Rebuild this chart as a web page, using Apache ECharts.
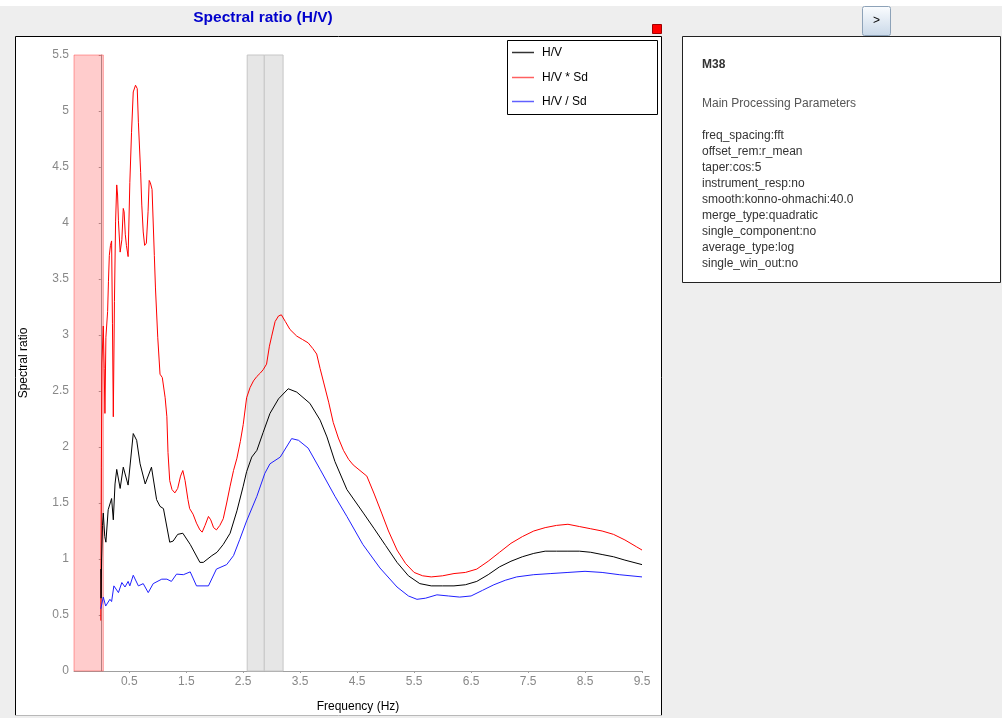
<!DOCTYPE html>
<html>
<head>
<meta charset="utf-8">
<title>Spectral ratio (H/V)</title>
<script src="https://cdn.jsdelivr.net/npm/echarts@6/dist/echarts.min.js"></script>
<style>
  html, body { margin: 0; padding: 0; background: #eeeeee; }
  #chart { width: 1002px; height: 718px; }
</style>
</head>
<body>
<div id="chart"></div>
<script>
// H/V curve
const hvFreq = [0.00, 0.005, 0.015, 0.03, 0.044, 0.07, 0.09, 0.13, 0.19, 0.22, 0.25, 0.28, 0.34, 0.395, 0.48, 0.57, 0.63, 0.69, 0.78, 0.89, 0.98, 1.04, 1.10, 1.21, 1.27, 1.35, 1.44, 1.57, 1.74, 1.80, 1.95, 2.04, 2.15, 2.27, 2.39, 2.50, 2.56, 2.65, 2.74, 2.85, 2.97, 3.12, 3.29, 3.44, 3.67, 3.85, 3.97, 4.11, 4.32, 4.61, 4.80, 5.00, 5.20, 5.40, 5.60, 5.80, 6.00, 6.20, 6.40, 6.60, 6.80, 7.00, 7.20, 7.40, 7.60, 7.80, 8.00, 8.20, 8.40, 8.60, 8.80, 9.00, 9.20, 9.50];
const hvValue = [0.91, 0.65, 1.00, 1.30, 1.41, 1.20, 1.15, 1.44, 1.54, 1.35, 1.67, 1.80, 1.63, 1.82, 1.66, 2.12, 2.06, 1.85, 1.67, 1.82, 1.53, 1.47, 1.45, 1.15, 1.16, 1.22, 1.23, 1.13, 0.97, 0.97, 1.03, 1.06, 1.13, 1.23, 1.43, 1.65, 1.78, 1.91, 1.97, 2.13, 2.30, 2.43, 2.52, 2.49, 2.39, 2.24, 2.09, 1.87, 1.62, 1.41, 1.27, 1.12, 0.97, 0.85, 0.78, 0.76, 0.76, 0.76, 0.77, 0.80, 0.86, 0.93, 0.98, 1.02, 1.05, 1.07, 1.07, 1.07, 1.07, 1.06, 1.04, 1.02, 0.99, 0.95];

// H/V * Sd curve
const hvMulFreq = [0.00, 0.01, 0.02, 0.044, 0.06, 0.073, 0.09, 0.12, 0.135, 0.15, 0.17, 0.19, 0.205, 0.22, 0.24, 0.26, 0.28, 0.295, 0.31, 0.34, 0.37, 0.395, 0.41, 0.43, 0.45, 0.48, 0.51, 0.54, 0.57, 0.61, 0.64, 0.66, 0.70, 0.72, 0.745, 0.77, 0.80, 0.83, 0.85, 0.87, 0.90, 0.94, 0.96, 1.00, 1.04, 1.08, 1.13, 1.16, 1.18, 1.21, 1.25, 1.30, 1.35, 1.40, 1.44, 1.48, 1.53, 1.56, 1.62, 1.68, 1.74, 1.78, 1.83, 1.89, 1.93, 1.98, 2.03, 2.09, 2.15, 2.21, 2.27, 2.33, 2.39, 2.45, 2.50, 2.56, 2.62, 2.68, 2.74, 2.80, 2.85, 2.91, 2.96, 3.00, 3.06, 3.12, 3.17, 3.24, 3.32, 3.44, 3.54, 3.64, 3.72, 3.79, 3.85, 3.91, 4.00, 4.08, 4.17, 4.26, 4.35, 4.43, 4.55, 4.67, 4.80, 4.93, 5.05, 5.20, 5.35, 5.50, 5.65, 5.80, 6.00, 6.20, 6.40, 6.60, 6.80, 7.00, 7.20, 7.40, 7.60, 7.80, 8.00, 8.20, 8.40, 8.60, 8.80, 9.00, 9.20, 9.40, 9.50];
const hvMulValue = [0.45, 1.82, 2.75, 3.08, 2.70, 2.30, 2.98, 3.21, 3.48, 3.71, 3.80, 3.84, 3.10, 2.27, 3.30, 4.01, 4.34, 4.25, 4.02, 3.74, 3.85, 4.13, 4.10, 3.90, 3.80, 3.70, 4.36, 4.81, 5.17, 5.23, 5.20, 4.90, 4.45, 4.16, 3.92, 3.80, 3.82, 4.10, 4.38, 4.36, 4.30, 3.71, 3.42, 2.98, 2.65, 2.62, 2.44, 2.27, 1.95, 1.70, 1.62, 1.59, 1.63, 1.74, 1.79, 1.70, 1.53, 1.45, 1.40, 1.32, 1.26, 1.24, 1.30, 1.38, 1.35, 1.28, 1.26, 1.30, 1.36, 1.50, 1.65, 1.79, 1.90, 2.05, 2.20, 2.44, 2.53, 2.59, 2.63, 2.66, 2.69, 2.74, 2.90, 2.99, 3.12, 3.17, 3.18, 3.12, 3.05, 2.99, 2.96, 2.93, 2.88, 2.83, 2.70, 2.58, 2.40, 2.22, 2.08, 1.97, 1.89, 1.84, 1.79, 1.74, 1.58, 1.41, 1.25, 1.08, 0.96, 0.88, 0.85, 0.84, 0.85, 0.87, 0.88, 0.91, 0.98, 1.06, 1.14, 1.20, 1.25, 1.28, 1.30, 1.31, 1.29, 1.27, 1.25, 1.22, 1.17, 1.11, 1.08];

// H/V / Sd curve
const hvDivFreq = [0.00, 0.044, 0.086, 0.16, 0.19, 0.23, 0.31, 0.37, 0.425, 0.48, 0.51, 0.57, 0.66, 0.745, 0.833, 0.92, 1.07, 1.16, 1.24, 1.33, 1.45, 1.57, 1.68, 1.89, 2.03, 2.21, 2.33, 2.44, 2.56, 2.74, 2.88, 2.97, 3.15, 3.35, 3.47, 3.64, 3.85, 4.11, 4.32, 4.60, 4.90, 5.20, 5.40, 5.55, 5.70, 5.90, 6.10, 6.30, 6.50, 6.70, 6.90, 7.10, 7.30, 7.60, 7.90, 8.20, 8.50, 8.80, 9.10, 9.50];
const hvDivValue = [0.555, 0.66, 0.58, 0.64, 0.62, 0.76, 0.70, 0.79, 0.75, 0.80, 0.76, 0.855, 0.76, 0.78, 0.70, 0.78, 0.82, 0.82, 0.80, 0.865, 0.86, 0.885, 0.76, 0.76, 0.91, 0.95, 1.03, 1.175, 1.34, 1.56, 1.765, 1.85, 1.91, 2.075, 2.06, 1.99, 1.80, 1.56, 1.38, 1.13, 0.92, 0.75, 0.67, 0.64, 0.65, 0.68, 0.67, 0.66, 0.67, 0.72, 0.77, 0.81, 0.84, 0.86, 0.87, 0.88, 0.89, 0.88, 0.86, 0.84];

// Excluded low-frequency band and peak frequency +/- std band (Hz)
const lowCutBand = [-0.47, 0.045];
const peakBand = [2.57, 2.87, 3.20];

// Axis settings
const freqRange = [-0.47, 9.5];
const freqTicks = [0.5, 1.5, 2.5, 3.5, 4.5, 5.5, 6.5, 7.5, 8.5, 9.5];
const ratioRange = [0, 5.5];

const seriesNames = ['H/V', 'H/V * Sd', 'H/V / Sd'];
const seriesColors = ['#000000', '#ff0000', '#2020ff'];
const legendColors = ['#333333', '#ff6060', '#6060ff'];

const paramTitle = 'M38';
const paramHeader = 'Main Processing Parameters';
const paramLines = [
  'freq_spacing:fft',
  'offset_rem:r_mean',
  'taper:cos:5',
  'instrument_resp:no',
  'smooth:konno-ohmachi:40.0',
  'merge_type:quadratic',
  'single_component:no',
  'average_type:log',
  'single_win_out:no'
];

const FONT = '"Liberation Sans", Arial, sans-serif';

function pairs(xs, ys) {
  return xs.map((x, i) => [x, ys[i]]);
}

const chart = echarts.init(document.getElementById('chart'), null, { renderer: 'canvas' });

const graphics = [];
// top strip and panels
graphics.push({ type: 'rect', z: -20, shape: { x: 0, y: 0, width: 1002, height: 6 }, style: { fill: '#ffffff' } });
graphics.push({ type: 'rect', z: -10, shape: { x: 15.5, y: 36.5, width: 646, height: 690 }, style: { fill: '#ffffff', stroke: '#000000', lineWidth: 1 } });
graphics.push({ type: 'rect', z: -10, shape: { x: 682.5, y: 36.5, width: 318, height: 246 }, style: { fill: '#ffffff', stroke: '#222222', lineWidth: 1 } });
// bottom edge of the page
graphics.push({ type: 'rect', z: 20, shape: { x: 0, y: 716, width: 1002, height: 2 }, style: { fill: '#eeeeee' } });
graphics.push({ type: 'line', z: 20, shape: { x1: 15, y1: 715.5, x2: 662, y2: 715.5 }, style: { stroke: '#b8b8b8', lineWidth: 1 } });

// title
graphics.push({ type: 'text', z: 10, style: { text: 'Spectral ratio (H/V)', x: 263, y: 18, textAlign: 'center', textVerticalAlign: 'middle', font: 'bold 15.5px ' + FONT, fill: '#0000cc' } });
// status square
graphics.push({ type: 'rect', z: 10, shape: { x: 652.5, y: 24.5, width: 9, height: 9 }, style: { fill: '#ff0000', stroke: '#a00000', lineWidth: 1 } });
// toggle button
graphics.push({
  type: 'rect', z: 10, shape: { x: 862.5, y: 6.5, width: 28, height: 29, r: 2 },
  style: {
    fill: new echarts.graphic.LinearGradient(0, 0, 0, 1, [
      { offset: 0, color: '#fbfdff' }, { offset: 1, color: '#c9d8e8' }
    ]),
    stroke: '#8da2b8', lineWidth: 1
  }
});
graphics.push({ type: 'text', z: 11, style: { text: '>', x: 876.5, y: 20.5, textAlign: 'center', textVerticalAlign: 'middle', font: '12px ' + FONT, fill: '#000000' } });

// legend box
graphics.push({ type: 'rect', z: 10, shape: { x: 507.5, y: 40.5, width: 150, height: 74 }, style: { fill: '#ffffff', stroke: '#000000', lineWidth: 1 } });
const legendRows = [52.5, 77.5, 101.5];
seriesNames.forEach((name, i) => {
  graphics.push({ type: 'line', z: 11, shape: { x1: 512, y1: legendRows[i], x2: 534, y2: legendRows[i] }, style: { stroke: legendColors[i], lineWidth: 1.5 } });
  graphics.push({ type: 'text', z: 11, style: { text: name, x: 542, y: legendRows[i], textVerticalAlign: 'middle', font: '12px ' + FONT, fill: '#000000' } });
});

// parameter panel text
graphics.push({ type: 'text', z: 10, style: { text: paramTitle, x: 702, y: 65, textVerticalAlign: 'middle', font: 'bold 12px ' + FONT, fill: '#333333' } });
graphics.push({ type: 'text', z: 10, style: { text: paramHeader, x: 702, y: 104, textVerticalAlign: 'middle', font: '12px ' + FONT, fill: '#555555' } });
paramLines.forEach((line, i) => {
  graphics.push({ type: 'text', z: 10, style: { text: line, x: 702, y: 135.5 + i * 16, textVerticalAlign: 'middle', font: '12px ' + FONT, fill: '#333333' } });
});

const option = {
  animation: false,
  backgroundColor: '#eeeeee',
  textStyle: { fontFamily: FONT },
  grid: { left: 74, top: 55, width: 568, height: 621, containLabel: false },
  xAxis: {
    type: 'value',
    min: freqRange[0],
    max: freqRange[1],
    name: 'Frequency (Hz)',
    nameLocation: 'middle',
    nameGap: 30,
    nameTextStyle: { color: '#000000', fontSize: 12, fontFamily: FONT },
    axisLine: { show: true, onZero: false, lineStyle: { color: '#a0a0a0', width: 1 } },
    axisTick: { show: true, length: 2, customValues: freqTicks, lineStyle: { color: '#a0a0a0' } },
    axisLabel: { customValues: freqTicks, color: '#888888', fontSize: 12, margin: 5, fontFamily: FONT, formatter: v => String(v) },
    splitLine: { show: false }
  },
  yAxis: {
    type: 'value',
    min: ratioRange[0],
    max: ratioRange[1],
    interval: 0.5,
    name: 'Spectral ratio',
    nameLocation: 'middle',
    nameGap: 44,
    nameRotate: 90,
    nameTextStyle: { color: '#000000', fontSize: 12, fontFamily: FONT },
    axisLine: { show: true, lineStyle: { color: '#a0a0a0', width: 1 } },
    axisTick: { show: true, length: 2, lineStyle: { color: '#a0a0a0' } },
    axisLabel: { color: '#888888', fontSize: 12, margin: 5, fontFamily: FONT },
    splitLine: { show: false }
  },
  graphic: graphics,
  series: [
    {
      name: 'bands',
      type: 'line',
      data: [],
      z: 1,
      silent: true,
      markArea: {
        silent: true,
        data: [
          [
            { xAxis: lowCutBand[0], itemStyle: { color: 'rgba(255,0,0,0.2)', borderColor: 'rgba(255,60,60,0.45)', borderWidth: 1 } },
            { xAxis: lowCutBand[1] }
          ],
          [
            { xAxis: peakBand[0], itemStyle: { color: '#e6e6e6', borderColor: '#c6c6c6', borderWidth: 1 } },
            { xAxis: peakBand[1] }
          ],
          [
            { xAxis: peakBand[1], itemStyle: { color: '#e6e6e6', borderColor: '#c6c6c6', borderWidth: 1 } },
            { xAxis: peakBand[2] }
          ]
        ]
      }
    },
    {
      name: seriesNames[1], type: 'line', z: 3, showSymbol: false, smooth: false,
      lineStyle: { color: seriesColors[1], width: 1 }, itemStyle: { color: seriesColors[1] },
      data: pairs(hvMulFreq, hvMulValue)
    },
    {
      name: seriesNames[2], type: 'line', z: 3, showSymbol: false, smooth: false,
      lineStyle: { color: seriesColors[2], width: 1 }, itemStyle: { color: seriesColors[2] },
      data: pairs(hvDivFreq, hvDivValue)
    },
    {
      name: seriesNames[0], type: 'line', z: 4, showSymbol: false, smooth: false,
      lineStyle: { color: seriesColors[0], width: 1 }, itemStyle: { color: seriesColors[0] },
      data: pairs(hvFreq, hvValue)
    }
  ]
};

chart.setOption(option);
</script>
</body>
</html>
